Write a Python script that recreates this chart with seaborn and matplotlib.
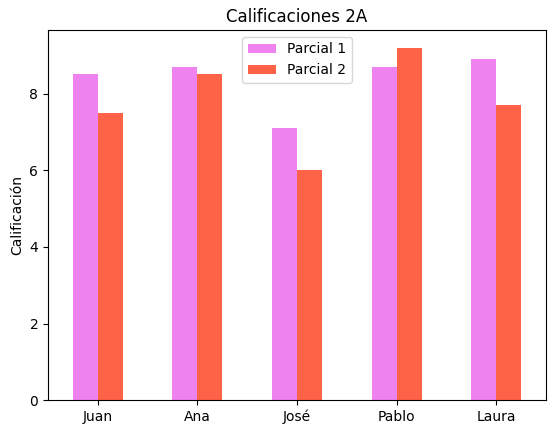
import pandas as pd
import matplotlib
matplotlib.use("Agg")
import matplotlib.pyplot as plt
import seaborn as sns

# Datos de calificaciones
alumnos = ["Juan", "Ana", "José", "Pablo", "Laura"]
parcial_1 = [8.5, 8.7, 7.1, 8.7, 8.9]
parcial_2 = [7.5, 8.5, 6.0, 9.2, 7.7]

df = pd.DataFrame({"Alumno": alumnos, "Parcial 1": parcial_1, "Parcial 2": parcial_2})
df_long = df.melt(id_vars="Alumno", var_name="Parcial", value_name="Calificación")

fig, ax = plt.subplots(figsize=(5.54, 4.34), dpi=100)

sns.barplot(
    data=df_long,
    x="Alumno",
    y="Calificación",
    hue="Parcial",
    palette=["violet", "tomato"],
    width=0.5,
    saturation=1,
    errorbar=None,
    ax=ax,
)

ax.set_title("Calificaciones 2A")
ax.set_xlabel("")
ax.set_ylabel("Calificación")
ax.legend(title=None, loc="upper center")

fig.subplots_adjust(left=0.0866, right=0.9856, top=0.931, bottom=0.078)
fig.savefig("out.png", dpi=100)
